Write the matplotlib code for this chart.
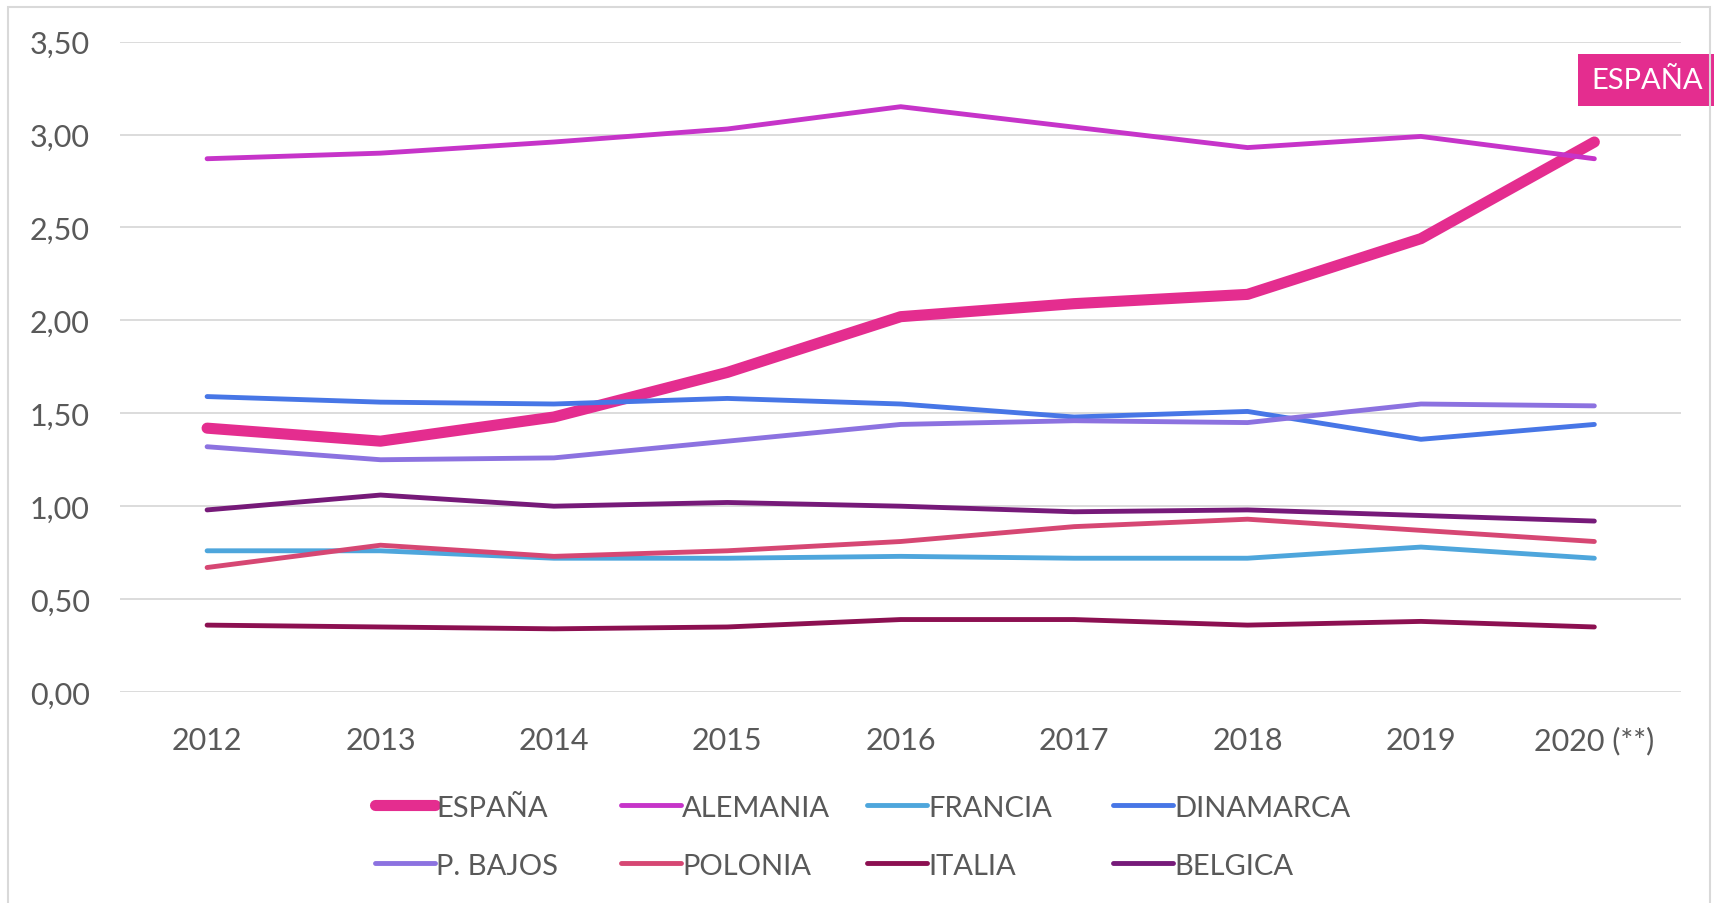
import matplotlib
matplotlib.use("Agg")
import matplotlib.pyplot as plt
from matplotlib.patches import Rectangle

plt.rcParams['font.family'] = ['Lato', 'DejaVu Sans']

years = ['2012', '2013', '2014', '2015', '2016', '2017', '2018', '2019', '2020 (**)']

espana = [1.42, 1.35, 1.48, 1.72, 2.02, 2.09, 2.14, 2.44, 2.96]
alemania = [2.87, 2.90, 2.96, 3.03, 3.15, 3.04, 2.93, 2.99, 2.87]
francia = [0.76, 0.76, 0.72, 0.72, 0.73, 0.72, 0.72, 0.78, 0.72]
dinamarca = [1.59, 1.56, 1.55, 1.58, 1.55, 1.48, 1.51, 1.36, 1.44]
p_bajos = [1.32, 1.25, 1.26, 1.35, 1.44, 1.46, 1.45, 1.55, 1.54]
polonia = [0.67, 0.79, 0.73, 0.76, 0.81, 0.89, 0.93, 0.87, 0.81]
italia = [0.36, 0.35, 0.34, 0.35, 0.39, 0.39, 0.36, 0.38, 0.35]
belgica = [0.98, 1.06, 1.00, 1.02, 1.00, 0.97, 0.98, 0.95, 0.92]

series = [
    ('ESPAÑA', espana, '#E42D8F', 8.0),
    ('ALEMANIA', alemania, '#C634C9', 3.5),
    ('FRANCIA', francia, '#4EA6DC', 3.5),
    ('DINAMARCA', dinamarca, '#4776E6', 3.5),
    ('P. BAJOS', p_bajos, '#8C72E0', 3.5),
    ('POLONIA', polonia, '#D64773', 3.5),
    ('ITALIA', italia, '#8C1051', 3.5),
    ('BELGICA', belgica, '#761A79', 3.5),
]

text_grey = '#595959'
grid_grey = '#D9D9D9'

fig = plt.figure(figsize=(17.15, 9.04), dpi=100)
ax = fig.add_axes([0.0702, 0.2334, 0.9100, 0.7194])

x = list(range(len(years)))
handles = []
for name, vals, color, lw in series:
    line, = ax.plot(x, vals, color=color, lw=lw, solid_capstyle='round',
                    solid_joinstyle='round', label=name)
    handles.append(line)

ax.set_xlim(-0.5, len(years) - 0.5)
ax.set_ylim(0, 3.5)
ax.set_yticks([0, 0.5, 1.0, 1.5, 2.0, 2.5, 3.0, 3.5])
ax.set_yticklabels([f"{v:.2f}".replace('.', ',') for v in ax.get_yticks()])
ax.set_xticks(x)
ax.set_xticklabels(years)
ax.tick_params(axis='both', length=0, labelsize=22, colors=text_grey)
ax.tick_params(axis='y', pad=22)
ax.tick_params(axis='x', pad=24.5)
ax.grid(axis='y', color=grid_grey, lw=1.3)
ax.set_axisbelow(True)
for s in ax.spines.values():
    s.set_visible(False)

# data label for the last ESPAÑA point
ax.annotate('ESPAÑA', xy=(x[-1], espana[-1]), xytext=(53, 62),
            textcoords='offset pixels', ha='center', va='center',
            color='white', fontsize=21,
            bbox=dict(boxstyle='square,pad=0.45', fc='#E42D8F', ec='none'),
            annotation_clip=False)

# legend, one per column like the Excel layout
col_x = [0.2187, 0.3621, 0.5055, 0.6490]
for i, cx in enumerate(col_x):
    hs = [handles[i], handles[i + 4]]
    fig.legend(hs, [h.get_label() for h in hs], loc='center left',
               bbox_to_anchor=(cx, 0.0735), frameon=False, fontsize=21,
               labelcolor=text_grey, handlelength=2.05, handletextpad=0.05,
               borderpad=0, borderaxespad=0, labelspacing=1.1)

# outer chart border
fig.patches.append(Rectangle((8 / 1715, -0.02), 1702 / 1715, 1 - 8 / 904 + 0.02,
                             transform=fig.transFigure, fill=False,
                             ec=grid_grey, lw=1.5))

fig.savefig('out.png', dpi=100, facecolor='white')
